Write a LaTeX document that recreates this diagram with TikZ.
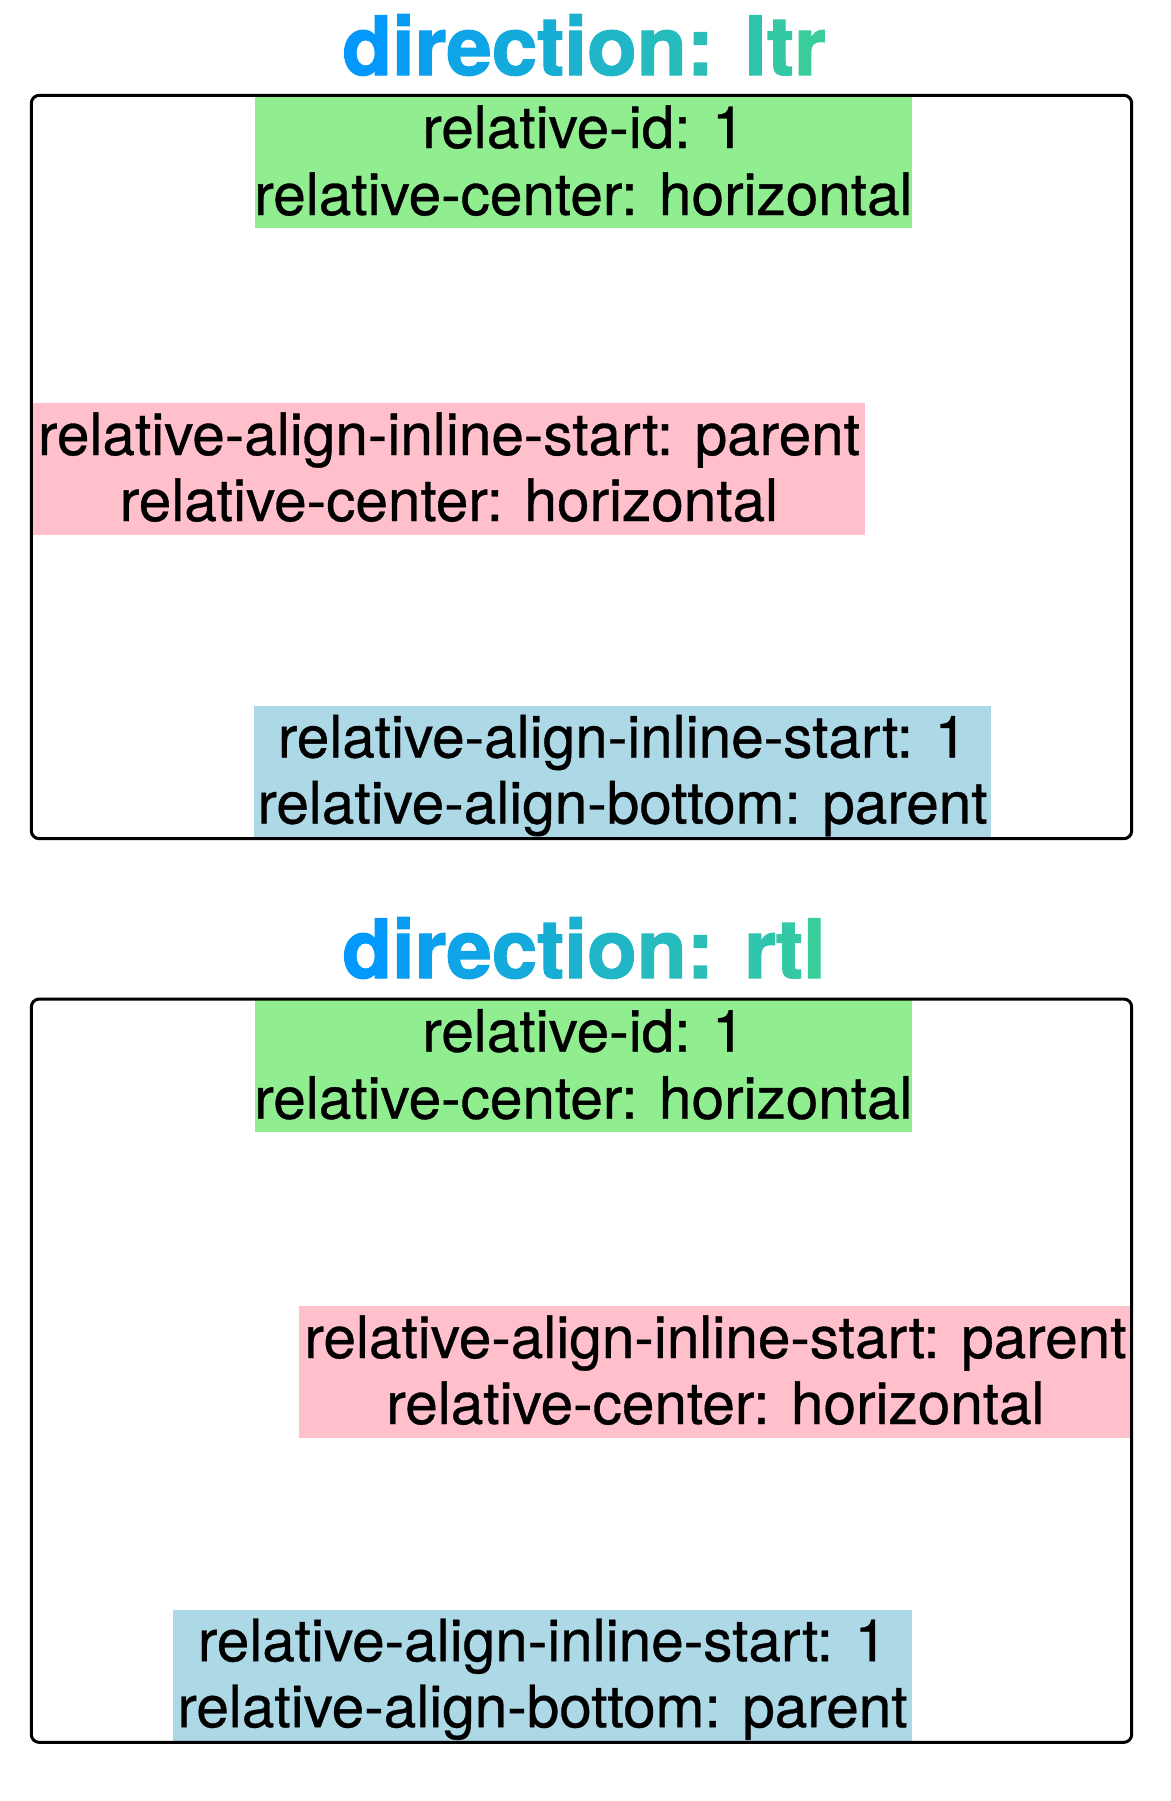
\documentclass[tikz,border=0pt]{standalone}
\usepackage{fontspec}
\setmainfont{TeX Gyre Heros}[FakeBold=0.6]
\newfontfamily\headingfont{texgyreheros-bold.otf}[FakeBold=1.6]
\usepackage{tikz}

\definecolor{lightgreen}{HTML}{90EE90}
\definecolor{pinkbox}{HTML}{FFC0CB}
\definecolor{lightblue}{HTML}{ADD8E6}
\definecolor{titlestart}{RGB}{0,150,255}
\definecolor{titleend}{RGB}{60,208,150}
% one letter of the gradient title
\newcommand{\gc}[2]{\textcolor{titleend!#1!titlestart}{#2}}

\tikzset{
	panel/.style={draw=black, line width=3pt, rounded corners=8pt},
	proptext/.style={anchor=base, inner sep=0pt, font=\fontsize{58.5}{66}\selectfont},
	heading/.style={anchor=base, inner sep=0pt, font=\fontsize{81.6}{90}\headingfont}
}

\begin{document}
\begin{tikzpicture}[x=1pt, y=-1pt]
	\useasboundingbox (0,0) rectangle (1170,1801);
	% direction: ltr
	\node[heading] (titleltr) at (584,75) {\gc{3}{d}\gc{12}{i}\gc{17}{r}\gc{25}{e}\gc{34}{c}\gc{41}{t}\gc{46}{i}\gc{53}{o}\gc{63}{n}\gc{70}{:} \gc{79}{l}\gc{86}{t}\gc{95}{r}};
	\fill[lightgreen] (255,96.7) rectangle (912,228);
	\fill[pinkbox] (32.7,402.7) rectangle (865,535);
	\fill[lightblue] (254,706) rectangle (991,837.3);
	\draw[panel] (31.3,95.3) rectangle (1131.7,838.7);
	\node[proptext] (ltridA) at (583.5,148) {relative-id: 1};
	\node[proptext] (ltridB) at (583.5,215) {relative-center: horizontal};
	\node[proptext] (ltrstartA) at (449,455) {relative-align-inline-start: parent};
	\node[proptext] (ltrstartB) at (449,521) {relative-center: horizontal};
	\node[proptext] (ltrbottomA) at (622.5,757.5) {relative-align-inline-start: 1};
	\node[proptext] (ltrbottomB) at (622.5,823.5) {relative-align-bottom: parent};
	% direction: rtl
	\node[heading] (titlertl) at (584,978) {\gc{3}{d}\gc{12}{i}\gc{17}{r}\gc{25}{e}\gc{34}{c}\gc{41}{t}\gc{46}{i}\gc{53}{o}\gc{63}{n}\gc{70}{:} \gc{79}{r}\gc{87}{t}\gc{96}{l}};
	\fill[lightgreen] (255,1000.4) rectangle (912,1131.7);
	\fill[pinkbox] (299,1306) rectangle (1132,1438);
	\fill[lightblue] (173,1609.7) rectangle (912,1741);
	\draw[panel] (31.3,999) rectangle (1131.7,1742.4);
	\node[proptext] (rtlidA) at (583.5,1051.7) {relative-id: 1};
	\node[proptext] (rtlidB) at (583.5,1118.7) {relative-center: horizontal};
	\node[proptext] (rtlstartA) at (715.5,1358) {relative-align-inline-start: parent};
	\node[proptext] (rtlstartB) at (715.5,1424) {relative-center: horizontal};
	\node[proptext] (rtlbottomA) at (542.5,1661.2) {relative-align-inline-start: 1};
	\node[proptext] (rtlbottomB) at (542.5,1727.2) {relative-align-bottom: parent};
\end{tikzpicture}
\end{document}
